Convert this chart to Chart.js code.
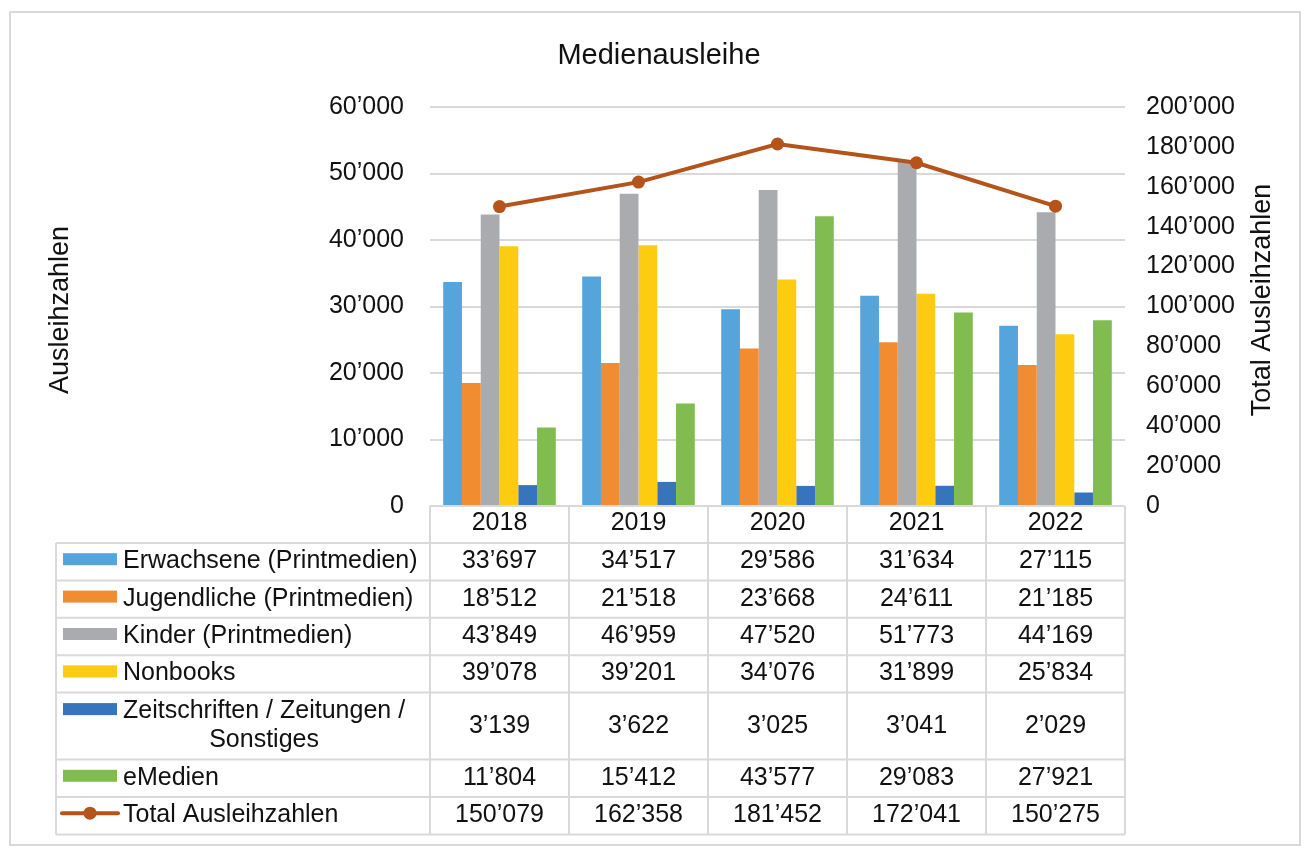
<!DOCTYPE html>
<html>
<head>
<meta charset="utf-8">
<title>Medienausleihe</title>
<script src="https://cdn.jsdelivr.net/npm/chart.js@4.4.1/dist/chart.umd.min.js"></script>
<style>
  html, body { margin: 0; padding: 0; background: #fff; }
  #chart { display: block; }
</style>
</head>
<body>
<canvas id="chart" width="1308" height="852"></canvas>
<script>
const years = ['2018', '2019', '2020', '2021', '2022'];

const erwachsene = [33697, 34517, 29586, 31634, 27115];
const jugendliche = [18512, 21518, 23668, 24611, 21185];
const kinder = [43849, 46959, 47520, 51773, 44169];
const nonbooks = [39078, 39201, 34076, 31899, 25834];
const zeitschriften = [3139, 3622, 3025, 3041, 2029];
const emedien = [11804, 15412, 43577, 29083, 27921];
const total = [150079, 162358, 181452, 172041, 150275];

const leftTicks = [0, 10000, 20000, 30000, 40000, 50000, 60000];
const rightTicks = [0, 20000, 40000, 60000, 80000, 100000, 120000, 140000, 160000, 180000, 200000];

const FONT = "'Liberation Sans', Arial, sans-serif";
const GRID = '#D9D9D9';
const TEXT = '#111111';

const fmt = n => String(n).replace(/\B(?=(\d{3})+(?!\d))/g, '\u2019');

function bar(label, data, color) {
    return { type: 'bar', label, data, backgroundColor: color, yAxisID: 'y', order: 1 };
}

const datasets = [
    bar('Erwachsene (Printmedien)', erwachsene, '#55A5DC'),
    bar('Jugendliche (Printmedien)', jugendliche, '#F28C30'),
    bar('Kinder (Printmedien)', kinder, '#A9ABAE'),
    bar('Nonbooks', nonbooks, '#FDCB10'),
    bar('Zeitschriften / Zeitungen / Sonstiges', zeitschriften, '#3674BC'),
    bar('eMedien', emedien, '#80BC50'),
    {
        type: 'line', label: 'Total Ausleihzahlen', data: total, yAxisID: 'y1', order: 0,
        borderColor: '#B4531A', backgroundColor: '#B4531A', borderWidth: 4,
        pointRadius: 6.5, pointBackgroundColor: '#B4531A', pointBorderWidth: 0, tension: 0
    }
];

// wrap a label into lines that fit the legend column
function wrap(ctx, text, maxW) {
    const words = text.split(' ');
    const lines = [];
    let cur = '';
    words.forEach(w => {
        const test = cur ? cur + ' ' + w : w;
        if (cur && ctx.measureText(test).width > maxW) {
            lines.push(cur);
            cur = w;
        } else {
            cur = test;
        }
    });
    lines.push(cur);
    return lines;
}

// frame, titles and the data table under the plot
const decorations = {
    id: 'decorations',
    beforeDraw(chart) {
        const ctx = chart.ctx;
        ctx.save();
        ctx.fillStyle = '#fff';
        ctx.fillRect(0, 0, chart.width, chart.height);
        ctx.strokeStyle = GRID;
        ctx.lineWidth = 2;
        ctx.strokeRect(10, 12, 1290, 833);
        ctx.restore();
    },
    afterDraw(chart) {
        const ctx = chart.ctx;
        const area = chart.chartArea;
        const xs = chart.scales.x;
        ctx.save();

        // chart title
        ctx.fillStyle = TEXT;
        ctx.font = '29px ' + FONT;
        ctx.textAlign = 'center';
        ctx.textBaseline = 'middle';
        ctx.fillText('Medienausleihe', 659, 56);

        // axis titles
        ctx.font = '27px ' + FONT;
        [['Ausleihzahlen', 61, 310], ['Total Ausleihzahlen', 1263, 300]].forEach(([t, x, y]) => {
            ctx.save();
            ctx.translate(x, y);
            ctx.rotate(-Math.PI / 2);
            ctx.fillText(t, 0, 0);
            ctx.restore();
        });

        // table geometry
        const colW = (area.right - area.left) / years.length;
        const colEdges = years.map((_, i) => xs.getPixelForValue(i) - colW / 2);
        colEdges.push(area.right);
        const labelLeft = 56;
        const headTop = area.bottom;
        const headBottom = headTop + 37;

        ctx.font = '25px ' + FONT;
        const rows = chart.data.datasets.map(ds => {
            const lines = wrap(ctx, ds.label, 300);
            return { ds, lines, h: lines.length > 1 ? 67 : 37.4 };
        });
        const tableBottom = rows.reduce((y, r) => y + r.h, headBottom);

        // grid of the table
        ctx.strokeStyle = GRID;
        ctx.lineWidth = 2;
        ctx.beginPath();
        ctx.moveTo(area.left, headTop);
        ctx.lineTo(area.right, headTop);
        let y = headBottom;
        ctx.moveTo(labelLeft, y);
        ctx.lineTo(area.right, y);
        rows.forEach(r => {
            y += r.h;
            ctx.moveTo(labelLeft, y);
            ctx.lineTo(area.right, y);
        });
        ctx.moveTo(labelLeft, headBottom);
        ctx.lineTo(labelLeft, tableBottom);
        colEdges.forEach(x => {
            ctx.moveTo(x, headTop);
            ctx.lineTo(x, tableBottom);
        });
        ctx.stroke();

        // header: categories from the x scale
        ctx.fillStyle = TEXT;
        ctx.textAlign = 'center';
        ctx.textBaseline = 'alphabetic';
        years.forEach((yr, i) => {
            ctx.fillText(xs.getLabelForValue(i), xs.getPixelForValue(i), headTop + 24);
        });

        // rows: legend key, label and values
        y = headBottom;
        rows.forEach(r => {
            const mid = y + r.h / 2;
            const n = r.lines.length;
            const base0 = mid + 6.5 - (n - 1) * 14.5;
            const keyY = base0 - 9;
            const ds = r.ds;

            if (ds.type === 'line') {
                ctx.strokeStyle = ds.borderColor;
                ctx.lineWidth = 4;
                ctx.lineCap = 'round';
                ctx.beginPath();
                ctx.moveTo(62, keyY);
                ctx.lineTo(118, keyY);
                ctx.stroke();
                ctx.fillStyle = ds.borderColor;
                ctx.beginPath();
                ctx.arc(90, keyY, 6.5, 0, Math.PI * 2);
                ctx.fill();
            } else {
                ctx.fillStyle = ds.backgroundColor;
                ctx.fillRect(63, keyY - 6, 54, 12);
            }

            ctx.fillStyle = TEXT;
            const widest = Math.max(...r.lines.map(l => ctx.measureText(l).width));
            ctx.textAlign = 'center';
            r.lines.forEach((l, k) => {
                ctx.fillText(l, 123 + widest / 2, base0 + k * 29);
            });

            ds.data.forEach((v, i) => {
                ctx.fillText(fmt(v), xs.getPixelForValue(i), mid + 6.5);
            });
            y += r.h;
        });

        ctx.restore();
    }
};

new Chart(document.getElementById('chart'), {
    type: 'bar',
    data: { labels: years, datasets },
    options: {
        responsive: false,
        devicePixelRatio: 1,
        animation: false,
        events: [],
        layout: { padding: { left: 0, right: 0, top: 107, bottom: 346 } },
        datasets: { bar: { categoryPercentage: 0.81, barPercentage: 1.0 } },
        plugins: { legend: { display: false }, title: { display: false }, tooltip: { enabled: false } },
        scales: {
            x: {
                grid: { display: false },
                border: { display: false },
                ticks: { display: false },
                afterFit: s => { s.height = 0; }
            },
            y: {
                position: 'left',
                min: 0, max: 60000,
                afterBuildTicks: s => { s.ticks = leftTicks.map(v => ({ value: v })); },
                afterFit: s => { s.width = 430; },
                grid: { color: ctx => ctx.tick.value === 0 ? 'rgba(0,0,0,0)' : GRID, lineWidth: 2, drawTicks: false },
                border: { display: false },
                ticks: { padding: 26, color: TEXT, font: { family: FONT, size: 25 }, callback: v => fmt(v) }
            },
            y1: {
                position: 'right',
                min: 0, max: 200000,
                afterBuildTicks: s => { s.ticks = rightTicks.map(v => ({ value: v })); },
                afterFit: s => { s.width = 183; },
                grid: { display: false, drawTicks: false },
                border: { display: false },
                ticks: { padding: 21, color: TEXT, font: { family: FONT, size: 25 }, callback: v => fmt(v) }
            }
        }
    },
    plugins: [decorations]
});
</script>
</body>
</html>
